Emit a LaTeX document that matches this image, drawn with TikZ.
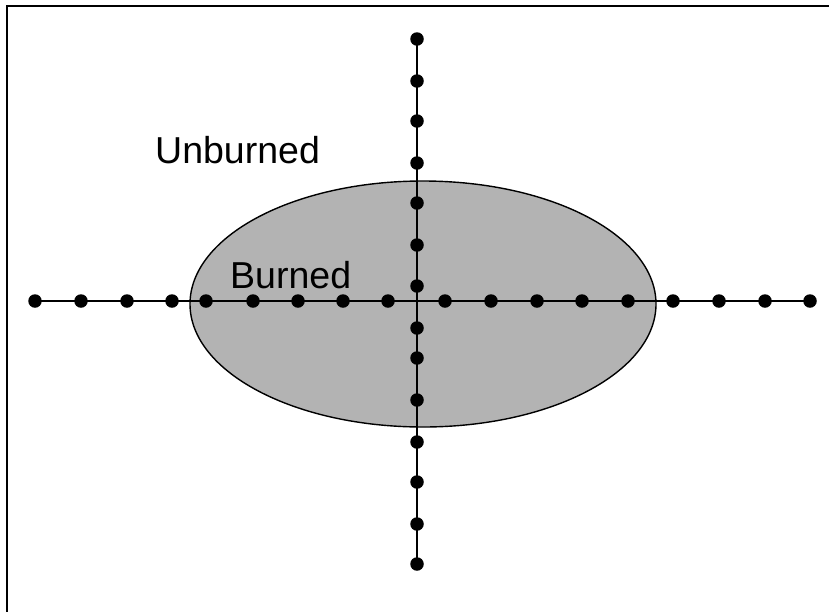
\documentclass[tikz,border=0pt]{standalone}
\usepackage{fontspec}
\setmainfont{Liberation Sans}
\begin{document}
\begin{tikzpicture}[x=1pt,y=-1pt,
  dot/.style={circle,fill=black,inner sep=0pt,minimum size=13.5pt},
  axisline/.style={line width=2pt},
  label/.style={anchor=base west,inner sep=0pt,font=\fontsize{37.5}{41}\selectfont},
  region/.style={fill=burnt,draw=black,line width=1.4pt}]
  \definecolor{burnt}{RGB}{179,179,179}
  % page extent; the frame runs off the right and bottom edges
  \clip (0,0) rectangle (829,611);
  \draw[line width=2pt] (7,6) rectangle (840,620);

  % burned region
  \path[region] (423,304) ellipse [x radius=233, y radius=123];

  % grid points along the two axes
  \foreach \x [count=\i] in {35,81,127,172,206,253,298,343,388,445,491,537,582,628,673,719,765,810}
    \node[dot] (h\i) at (\x,301) {};
  \foreach \y [count=\i] in {39,81,121,163,203,245,286,328,358,400,442,482,524,564}
    \node[dot] (v\i) at (417,\y) {};

  \draw[axisline] (h1.center) -- (h18.center);
  \draw[axisline] (v1.center) -- (v14.center);

  \node[label] (unburned) at (155,163) {Unburned};
  \node[label] (burned) at (230,288) {Burned};
\end{tikzpicture}
\end{document}
